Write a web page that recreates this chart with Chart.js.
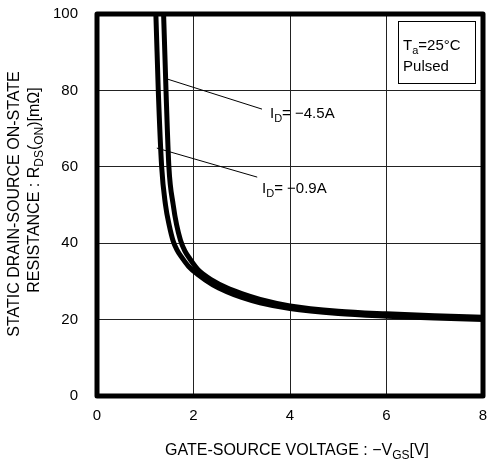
<!DOCTYPE html>
<html>
<head>
<meta charset="utf-8">
<script src="https://cdn.jsdelivr.net/npm/chart.js@4.4.1/dist/chart.umd.min.js"></script>
<style>
  html, body { margin: 0; padding: 0; background: #fff; }
  #wrap { width: 488px; height: 463px; position: relative; }
</style>
</head>
<body>
<div id="wrap"><canvas id="c" width="488" height="463"></canvas></div>
<script>
// ---- data ----
const xTicks = [0, 2, 4, 6, 8];
const yTicks = [0, 20, 40, 60, 80, 100];

// I_D = -0.9A
const vgs09 = [1.20, 1.22, 1.27, 1.34, 1.42, 1.50, 1.58, 1.66, 1.75, 1.90, 2.09, 2.40, 2.69, 3.00, 3.38, 4.00, 5.00, 6.00, 7.00, 8.00];
const rds09 = [106, 100, 80, 60, 50, 44.5, 40.5, 38.2, 36.4, 33.9, 31.8, 29.1, 27.3, 25.8, 24.4, 22.9, 21.6, 20.9, 20.4, 20.0];

// I_D = -4.5A
const vgs45 = [1.36, 1.38, 1.43, 1.49, 1.58, 1.65, 1.73, 1.82, 1.92, 2.09, 2.40, 2.69, 3.00, 3.38, 4.00, 5.00, 6.00, 7.00, 8.00];
const rds45 = [106, 100, 80, 60, 50, 44.8, 40.8, 38.0, 36.0, 33.1, 30.2, 28.3, 26.8, 25.3, 23.6, 22.2, 21.5, 21.0, 20.6];

const seriesLabels = ['I_D= -0.9A', 'I_D= -4.5A'];

const toPts = (xs, ys) => xs.map((v, i) => ({ x: v, y: ys[i] }));

const FONT = '"Liberation Sans", Arial, Helvetica, sans-serif';

// draw text made of [string, isSubscript] pieces
function richWidth(ctx, parts, size) {
  let w = 0;
  parts.forEach(([t, sub]) => {
    ctx.font = (sub ? Math.round(size * 0.72) : size) + 'px ' + FONT;
    w += ctx.measureText(t).width;
  });
  return w;
}
function drawRich(ctx, parts, x, y, size) {
  let cx = x;
  ctx.textBaseline = 'alphabetic';
  ctx.textAlign = 'left';
  parts.forEach(([t, sub]) => {
    const s = sub ? Math.round(size * 0.72) : size;
    ctx.font = s + 'px ' + FONT;
    ctx.fillText(t, cx, sub ? y + size * 0.28 : y);
    cx += ctx.measureText(t).width;
  });
}

const leaders = [
  { x0: 1.45, y0: 83.0, x1: 3.42, y1: 75.1, lx: 3.585, ly: 72.8,
    parts: [['I', false], ['D', true], ['= \u22124.5A', false]] },
  { x0: 1.24, y0: 64.9, x1: 3.32, y1: 57.3, lx: 3.42, ly: 53.1,
    parts: [['I', false], ['D', true], ['= \u22120.9A', false]] }
];

const overlay = {
  id: 'overlay',
  afterDatasetsDraw(chart) {
    const { ctx, chartArea: a, scales: { x, y } } = chart;
    ctx.save();
    ctx.fillStyle = '#000';
    ctx.strokeStyle = '#000';
    // leader lines and labels
    ctx.lineWidth = 1;
    leaders.forEach(l => {
      ctx.beginPath();
      ctx.moveTo(x.getPixelForValue(l.x0), y.getPixelForValue(l.y0));
      ctx.lineTo(x.getPixelForValue(l.x1), y.getPixelForValue(l.y1));
      ctx.stroke();
      drawRich(ctx, l.parts, x.getPixelForValue(l.lx), y.getPixelForValue(l.ly), 15);
    });
    // condition box
    const bx0 = x.getPixelForValue(6.24), bx1 = x.getPixelForValue(7.83);
    const by0 = y.getPixelForValue(98.2), by1 = y.getPixelForValue(81.9);
    ctx.fillStyle = '#fff';
    ctx.fillRect(bx0, by0, bx1 - bx0, by1 - by0);
    ctx.fillStyle = '#000';
    ctx.lineWidth = 1;
    ctx.strokeRect(Math.round(bx0) + 0.5, Math.round(by0) + 0.5, Math.round(bx1 - bx0), Math.round(by1 - by0));
    drawRich(ctx, [['T', false], ['a', true], ['=25\u00B0C', false]], bx0 + 5, by0 + 29, 15);
    drawRich(ctx, [['Pulsed', false]], bx0 + 5, by0 + 50, 15);
    // thick frame
    ctx.lineWidth = 5;
    ctx.lineJoin = 'round';
    ctx.strokeRect(a.left, a.top, a.right - a.left, a.bottom - a.top);
    // axis titles
    ctx.fillStyle = '#000';
    const xt = [['GATE-SOURCE VOLTAGE : \u2212V', false], ['GS', true], ['[V]', false]];
    drawRich(ctx, xt, 165, 455, 16);
    // y titles (rotated)
    ctx.save();
    ctx.translate(19, 204);
    ctx.rotate(-Math.PI / 2);
    const y1 = [['STATIC DRAIN-SOURCE ON-STATE', false]];
    const w1 = richWidth(ctx, y1, 16);
    drawRich(ctx, y1, -w1 / 2, 0, 16);
    ctx.restore();
    ctx.save();
    ctx.translate(39, 190);
    ctx.rotate(-Math.PI / 2);
    const y2 = [['RESISTANCE : R', false], ['DS', true], ['(', false], ['ON', true], [')[m\u03A9]', false]];
    const w2 = richWidth(ctx, y2, 16);
    drawRich(ctx, y2, -w2 / 2, 0, 16);
    ctx.restore();
    ctx.restore();
  }
};

new Chart(document.getElementById('c'), {
  type: 'line',
  data: {
    datasets: [
      { label: seriesLabels[0], data: toPts(vgs09, rds09), borderColor: '#000', borderWidth: 5,
        pointRadius: 0, cubicInterpolationMode: 'monotone', fill: false },
      { label: seriesLabels[1], data: toPts(vgs45, rds45), borderColor: '#000', borderWidth: 5,
        pointRadius: 0, cubicInterpolationMode: 'monotone', fill: false }
    ]
  },
  options: {
    responsive: false,
    animation: false,
    devicePixelRatio: 1,
    layout: { padding: { top: 14, right: 5, left: 0, bottom: 0 } },
    plugins: { legend: { display: false }, tooltip: { enabled: false }, title: { display: false } },
    scales: {
      x: {
        type: 'linear', min: 0, max: 8,
        afterBuildTicks: s => { s.ticks = xTicks.map(v => ({ value: v })); },
        afterFit: s => { s.height = 67; s.paddingLeft = 0; s.paddingRight = 0; },
        grid: { color: '#222', lineWidth: 1, drawTicks: false },
        border: { display: false },
        ticks: { color: '#000', font: { family: FONT, size: 15 }, padding: 11, maxRotation: 0 }
      },
      y: {
        type: 'linear', min: 0, max: 100,
        afterBuildTicks: s => { s.ticks = yTicks.map(v => ({ value: v })); },
        afterFit: s => { s.width = 97; s.paddingTop = 0; s.paddingBottom = 0; },
        grid: { color: '#222', lineWidth: 1, drawTicks: false },
        border: { display: false },
        ticks: { color: '#000', font: { family: FONT, size: 15 }, padding: 19 }
      }
    }
  },
  plugins: [overlay]
});
</script>
</body>
</html>
